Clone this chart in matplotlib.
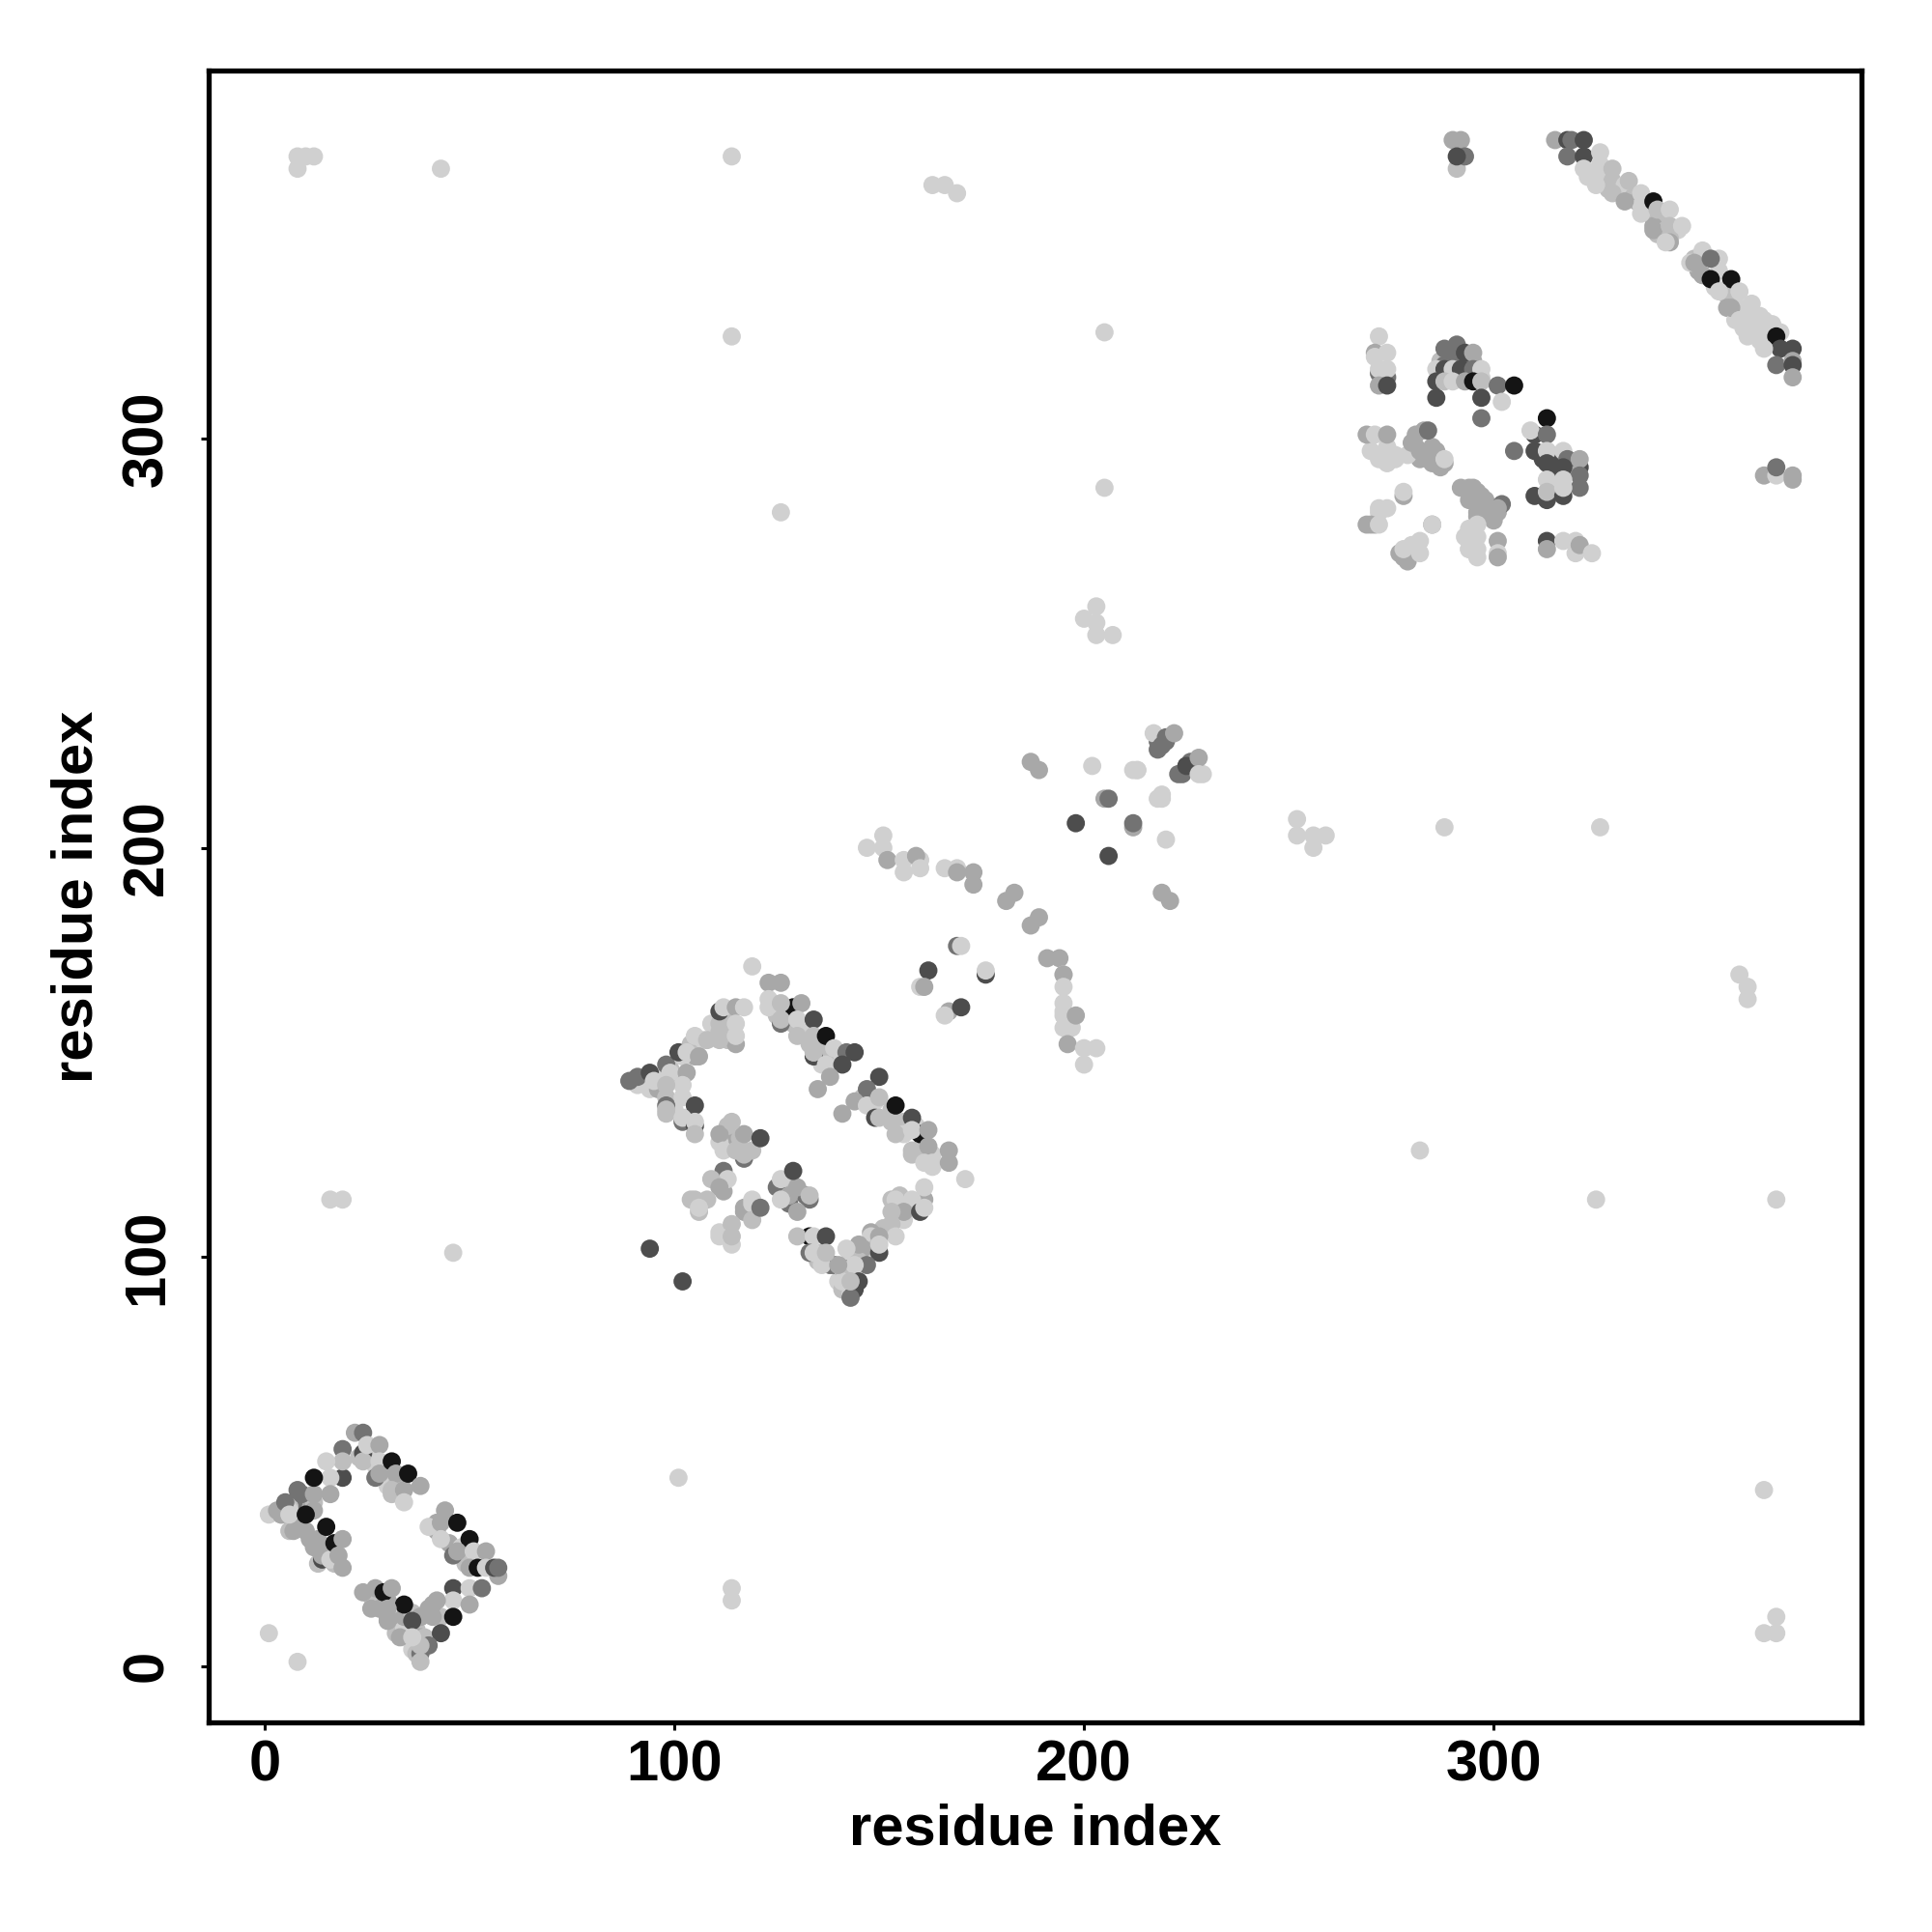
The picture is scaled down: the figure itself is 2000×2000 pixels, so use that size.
import matplotlib
matplotlib.use("Agg")
import matplotlib.pyplot as plt

plt.rcParams['font.family'] = ['Liberation Sans', 'DejaVu Sans']

#grey levels of the points, 0-255
L=208
M=190
A=168
D=115
K=77
B=20

#scattered single contacts
sparse_x=[8,10,12,8,43,114,163,166,169,114,205,126,205,200,203,203,207,203,252,252,256,256,259,288,326,360,362,362,282,325,369,366,369,366,369,16,19,46,101,114,114,1,8,366,369,369,373,373,290,292,291,293,291]
sparse_y=[369,369,369,366,366,369,362,362,360,325,326,282,288,256,259,252,252,255,207,203,203,200,203,205,205,169,166,163,126,114,114,43,12,8,8,114,114,101,46,19,16,8,1,291,291,293,291,290,373,373,366,369,369]
sparse_g=[L,L,L,L,L,L,L,L,L,L,L,L,L,L,L,L,L,L,L,L,L,L,L,L,L,L,L,L,L,L,L,L,L,L,L,L,L,L,L,L,L,L,L,A,L,D,A,A,A,A,M,D,K]

#first diamond, points mostly hidden behind the others
d1back_x=[7,8,8,6,10,12,13,15,14,13,16,17,18,10,7,12,4,6,6,23,26,27,30,31,33,29,32,42,42,45,48,49,49,26,27,28,30,30,33,32,34,34,36,38,40,43,37,38,36,39,41,37]
d1back_y=[35,34,36,33,33,29,31,29,28,25,27,25,25,40,40,40,37,39,38,51,51,49,44,42,43,49,44,33,35,30,29,25,28,17,16,14,12,16,10,8,9,12,13,12,14,12,9,7,4,7,15,3]
d1back_g=[M,A,A,M,A,A,A,A,A,M,L,M,M,A,D,M,M,M,L,M,L,L,L,M,M,L,M,A,A,A,L,M,M,M,M,A,A,A,A,M,L,A,M,A,A,M,M,A,L,M,A,M]

#first diamond
d1_x=[1,3,4,5,8,9,7,6,11,14,14,16,12,12,10,15,19,17,19,18,19,19,19,15,16,12,16,22,24,24,24,25,28,28,27,28,31,32,31,34,35,38,34,40,44,43,43,47,50,46,47,51,54,50,52,54,57,56,57,46,46,50,53,50,46,42,43,40,41,38,36,38,38,38,34,34,24,27,29,31,26,30,30,33,36]
d1_y=[37,38,37,40,43,42,33,37,31,26,27,26,42,38,37,34,53,30,31,27,24,46,50,50,46,46,42,57,57,52,50,54,54,50,46,47,50,47,43,43,47,44,40,34,38,35,31,35,31,27,28,28,28,24,24,24,22,24,24,19,16,19,19,15,12,16,8,5,12,12,11,3,1,5,15,7,18,19,18,19,14,14,11,7,7]
d1_g=[L,A,A,D,D,D,A,L,A,K,A,L,A,A,B,B,D,B,A,A,A,K,M,L,L,B,A,A,D,K,M,L,A,L,D,A,B,A,M,A,B,A,L,L,A,A,L,B,B,D,A,L,A,A,B,L,A,K,D,K,L,L,D,A,B,A,K,D,A,A,K,D,M,M,B,L,A,A,B,A,A,A,A,A,L]

#second diamond, hidden points
d2back_x=[93,94,91,97,100,99,96,102,104,105,102,104,107,109,111,113,113,115,112,100,98,103,124,125,129,131,133,136,135,139,137,141,136,149,146,148,153,153,156,156,159,159,158,163,163,155,158,155,156,151,148,148,149,146,143,145,142,140,141,143,139,141,135,136,114,113,111,117,117,125,128,128,132,133,128,104,106,113,114,111,112,117,119]
d2back_y=[143,141,142,144,144,146,141,144,150,149,149,152,153,157,155,157,153,152,159,136,135,134,162,159,157,155,152,151,149,148,149,149,147,138,139,139,136,133,133,130,132,126,125,125,122,115,113,113,109,107,106,105,102,102,100,99,97,94,92,91,98,97,99,101,129,132,128,124,125,117,114,113,115,114,119,114,111,105,103,106,116,112,114]
d2back_g=[L,L,L,L,L,M,A,A,M,A,L,M,L,L,M,M,M,A,M,L,M,L,L,M,M,L,M,M,L,L,M,L,L,L,M,M,M,M,M,L,L,M,M,L,L,M,M,A,L,M,A,L,M,A,L,M,D,L,M,L,D,M,M,M,A,M,L,D,M,D,M,D,D,D,M,M,M,M,L,L,A,A,L]

#second diamond, upper edges
d2a_x=[119,123,126,123,123,129,126,131,126,126,130,134,130,134,134,137,134,134,139,137,142,144,141,138,135,150,147,144,141,147,149,150,154,150,158,154,160,158,162,158,162,161,163,167,167,171,89,91,94,95,98,99,103,102,98,98,98,98,102,105,102,102,105,105,105,101,103,106,105,108,111,111,111,112,115,117,115,115,94,102]
d2a_y=[171,167,167,163,161,161,162,162,157,158,158,158,154,154,149,154,150,150,151,147,150,150,147,144,141,144,141,138,135,137,134,139,137,134,134,130,130,131,131,126,127,123,123,126,123,119,143,144,145,143,147,145,145,142,142,139,137,136,139,137,133,134,132,133,130,150,150,149,154,153,157,153,160,161,161,161,157,154,102,94]
d2a_g=[L,A,A,L,L,B,M,A,D,M,L,K,M,M,K,B,M,M,L,L,D,K,K,A,A,K,D,A,A,L,K,M,B,M,K,M,B,L,A,M,A,L,L,A,A,L,D,D,K,L,D,L,A,L,M,M,D,M,L,K,D,L,K,L,M,K,L,A,L,M,M,M,K,L,A,L,L,L,K,K]

#second diamond, lower edges and inner block
d2b_x=[161,161,158,153,154,156,160,161,153,153,154,150,150,150,145,147,142,144,144,143,141,145,143,138,136,140,133,130,134,137,133,134,137,126,130,128,133,126,130,129,111,112,115,116,117,119,114,121,112,113,109,111,108,105,106,117,119,119,121,114,111,114]
d2b_y=[114,117,114,114,114,111,111,112,111,108,105,105,101,103,103,98,102,98,92,90,94,94,94,98,98,98,105,105,105,105,101,101,101,119,117,115,115,114,111,121,130,126,126,129,130,126,133,129,121,119,119,117,114,114,112,111,113,109,112,108,105,105]
d2b_g=[A,L,L,M,L,A,K,L,M,M,L,A,K,L,A,D,L,L,K,D,L,K,M,D,L,A,B,M,L,K,D,L,M,L,A,A,M,L,A,K,A,L,M,M,A,M,M,K,D,L,M,A,M,M,L,A,L,M,D,M,L,M]

#helix pair in the middle, hidden points
midback_x=[218,219,220,225,226,223,229,213,219,195,196,195,160]
midback_y=[226,226,226,220,221,218,218,219,212,159,156,162,197]
midback_g=[D,K,D,D,D,D,L,L,L,L,L,L,L]

#helix pair in the middle
mid_x=[187,189,202,212,213,217,218,219,220,222,224,225,228,228,219,218,205,206,198,212,212,220,206,219,221,147,151,151,152,156,156,159,160,166,169,169,173,173,181,183,187,189,191,194,195,195,195,195,195,197,198,196,200,203,200,169,170,162,160,161,176,176,167,166,170]
mid_y=[221,219,220,219,219,228,224,225,227,228,218,220,222,218,213,212,212,212,206,205,206,202,198,189,187,200,203,200,197,197,194,198,195,195,195,194,194,191,187,189,181,183,173,173,169,169,166,160,156,156,159,152,151,151,147,176,176,170,166,166,169,170,160,159,161]
mid_g=[A,A,L,L,L,L,D,D,D,A,D,K,A,L,L,L,A,D,K,A,D,L,K,A,A,L,L,L,A,L,L,A,L,L,L,A,A,A,A,A,A,A,A,A,L,A,L,L,L,L,A,A,L,L,L,D,L,K,L,A,K,L,A,L,K]

#third block, hidden points
d3back_x=[270,272,274,274,276,281,282,284,287,285,288,281,292,294,296,298,299,296,301,293,294,296,296,294,269,271,272,274,277,280,279,282,287,287,290,292,295,296,297,290,288,293,313,314,312,316,315,319,321,320,316,317,315,319,272,274]
d3back_y=[297,295,294,298,296,298,295,295,293,298,294,301,288,285,287,285,282,281,282,276,273,273,276,278,279,279,283,283,272,274,270,275,315,319,320,319,319,316,315,315,318,317,297,294,295,295,292,294,293,294,288,288,288,293,316,315]
d3back_g=[L,L,L,L,L,A,A,A,A,A,A,A,A,A,A,A,A,A,A,L,L,L,L,L,A,A,L,L,A,L,A,L,L,M,D,D,A,D,L,L,D,D,A,L,K,K,K,K,K,D,K,L,L,A,D,D]

#third block
d3_x=[272,271,271,274,272,274,272,274,288,291,293,295,286,288,290,292,295,297,286,288,290,293,295,297,286,297,301,305,302,297,313,310,309,313,305,310,313,317,318,321,313,317,321,313,317,321,310,313,313,317,317,269,271,274,272,274,276,279,280,283,284,282,286,285,287,288,278,278,285,285,272,270,272,278,278,282,294,295,297,296,300,302,301,296,294,294,296,301,301,301,313,313,317,320,320,321,324]
d3_y=[325,321,320,321,317,317,313,313,322,323,321,321,317,317,317,317,317,317,314,314,314,314,314,314,310,310,313,313,309,305,305,301,302,301,297,297,297,297,295,295,294,293,291,290,290,288,286,285,287,286,288,301,301,301,296,295,295,296,299,302,302,297,297,294,294,295,286,287,279,279,282,279,279,271,273,272,288,288,286,282,280,284,283,279,276,273,271,275,272,271,275,273,275,275,272,274,272]
d3_g=[L,A,L,L,L,L,A,K,D,D,K,A,L,K,L,K,D,L,K,M,L,A,B,M,K,K,D,B,L,D,B,K,L,D,D,K,L,L,D,A,K,K,D,L,L,D,K,K,M,K,L,A,L,A,L,L,L,L,A,A,D,A,A,A,A,L,A,L,A,L,L,A,L,A,L,L,A,A,A,A,A,D,A,L,L,L,L,A,L,A,K,A,L,L,L,A,L]

#anti-parallel strand at the top right, hidden points
topback_x=[323,325,327,326,329,328,330,332,334,335,336,339,341,339,342,345,343,340,349,350,351,355,354,357,358,357,360,361,359,361,362,365,364,365,368]
topback_y=[364,364,364,367,363,361,361,362,359,358,357,354,353,352,351,351,349,350,344,341,340,341,337,335,334,332,332,331,329,327,330,330,327,324,328]
topback_g=[L,L,L,L,M,M,M,L,M,A,L,M,M,A,M,L,M,M,M,A,A,L,L,M,M,A,L,L,L,L,L,L,L,L,L]

#anti-parallel strand at the top right
top_x=[315,318,319,322,318,322,326,322,325,329,329,333,332,336,336,339,340,339,343,343,346,343,342,351,348,349,355,353,351,353,358,355,360,358,363,360,362,366,366,370,369,370,366,373,369,373,373,373]
top_y=[373,373,373,373,369,369,370,366,362,366,360,363,358,360,355,358,356,351,356,352,352,348,348,346,343,343,344,344,340,339,339,336,336,332,333,329,325,329,325,326,325,322,322,322,318,319,318,315]
top_g=[A,K,D,K,D,K,L,L,L,M,M,M,A,L,L,B,M,A,L,M,L,A,L,L,L,A,L,D,A,B,B,L,L,A,L,L,L,L,L,L,B,K,L,K,D,A,K,A]

x_ticks=[0,100,200,300]
x_label="residue index"
y_label="residue index"

POINT=46


def drawGroup(ax,xs,ys,gs):
    cols=[(g/255,g/255,g/255) for g in gs]
    ax.scatter(xs,ys,c=cols,s=POINT,linewidths=0,zorder=2)


fig=plt.figure(figsize=(10,10),dpi=200)
ax=fig.add_axes([216/2000,1-1783/2000,(1927-216)/2000,(1783-73)/2000])

drawGroup(ax,sparse_x,sparse_y,sparse_g)
drawGroup(ax,d1back_x,d1back_y,d1back_g)
drawGroup(ax,d1_x,d1_y,d1_g)
drawGroup(ax,d2back_x,d2back_y,d2back_g)
drawGroup(ax,d2a_x,d2a_y,d2a_g)
drawGroup(ax,d2b_x,d2b_y,d2b_g)
drawGroup(ax,midback_x,midback_y,midback_g)
drawGroup(ax,mid_x,mid_y,mid_g)
drawGroup(ax,d3back_x,d3back_y,d3back_g)
drawGroup(ax,d3_x,d3_y,d3_g)
drawGroup(ax,topback_x,topback_y,topback_g)
drawGroup(ax,top_x,top_y,top_g)

ax.set_xlim(-13.7,389.8)
ax.set_ylim(-13.8,390)
ax.set_xticks(x_ticks)
ax.set_yticks(x_ticks)
ax.tick_params(axis='x',length=2.8,width=1.1,labelsize=21.5,pad=3.5)
ax.tick_params(axis='y',length=2.8,width=1.1,labelsize=21.5,pad=10)
for lab in ax.get_xticklabels():
    lab.set_fontweight('bold')
for lab in ax.get_yticklabels():
    lab.set_fontweight('bold')
    lab.set_rotation(90)
    lab.set_va('center')
for s in ax.spines.values():
    s.set_linewidth(1.9)

fig.text((216+1927)/4000,1-1894/2000,x_label,fontsize=21.5,fontweight='bold',ha='center',va='center')
fig.text(80/2000,1-928/2000,y_label,fontsize=21.5,fontweight='bold',ha='center',va='center',rotation=90)

fig.savefig("out.png",dpi=200)
